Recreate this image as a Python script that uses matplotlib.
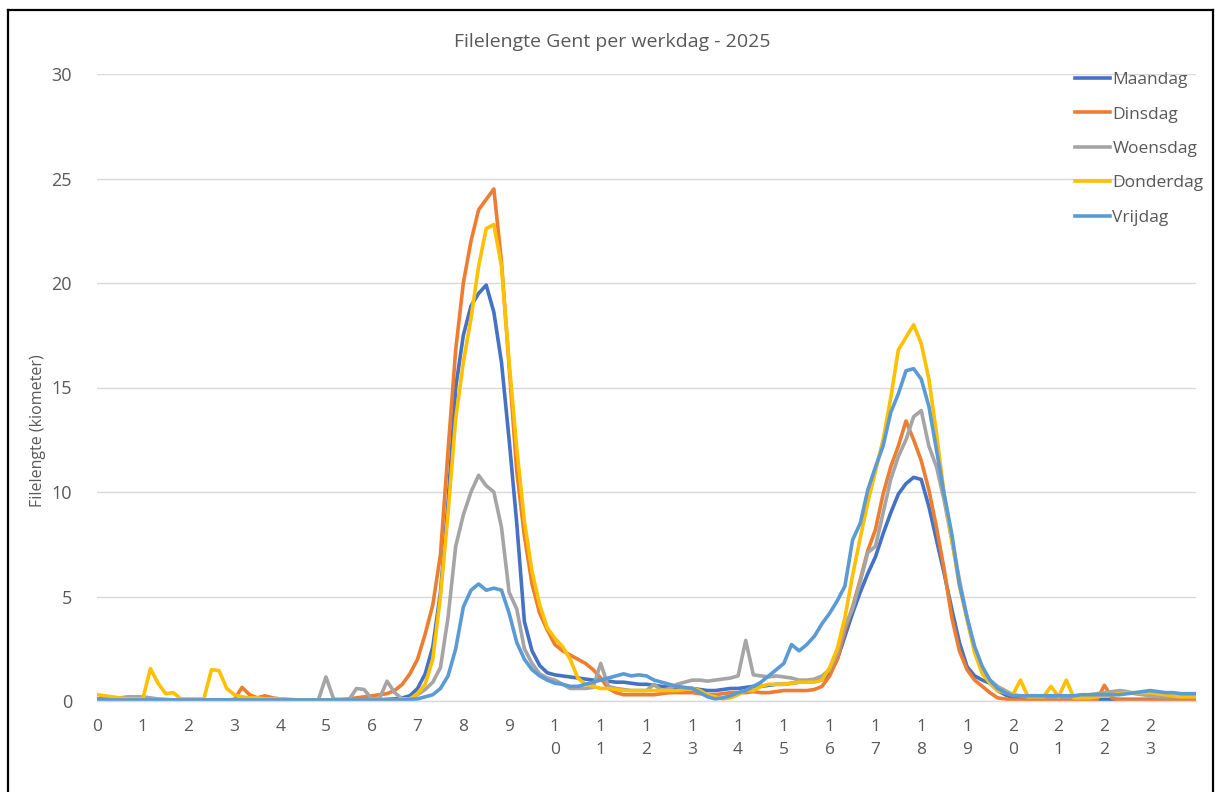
import numpy as np
import matplotlib
matplotlib.use("Agg")
import matplotlib.pyplot as plt
from matplotlib.lines import Line2D

# ---- data (km) every 10 minutes from 00:00 to 24:00 ----
maandag = [
    0.10, 0.08, 0.06, 0.05, 0.05, 0.05,
    0.05, 0.05, 0.05, 0.05, 0.05, 0.05,
    0.05, 0.05, 0.05, 0.05, 0.05, 0.05,
    0.05, 0.05, 0.05, 0.05, 0.05, 0.05,
    0.04, 0.04, 0.04, 0.04, 0.04, 0.04,
    0.04, 0.04, 0.05, 0.05, 0.05, 0.05,
    0.05, 0.06, 0.08, 0.10, 0.15, 0.25,
    0.60, 1.30, 2.60, 5.20, 9.50, 15.0,
    17.5, 18.9, 19.5, 19.9, 18.6, 16.2,
    12.5, 8.5, 3.8, 2.4, 1.7, 1.35,
    1.25, 1.20, 1.15, 1.10, 1.05, 1.00,
    1.00, 0.95, 0.90, 0.90, 0.85, 0.80,
    0.80, 0.75, 0.70, 0.65, 0.60, 0.60,
    0.60, 0.55, 0.50, 0.50, 0.55, 0.60,
    0.60, 0.65, 0.70, 0.70, 0.75, 0.80,
    0.80, 0.85, 0.90, 0.90, 0.95, 1.00,
    1.30, 2.00, 3.10, 4.20, 5.20, 6.10,
    6.90, 8.00, 9.00, 9.90, 10.4, 10.7,
    10.6, 9.30, 7.70, 6.10, 4.40, 2.80,
    1.65, 1.20, 1.00, 0.85, 0.50, 0.30,
    0.15, 0.10, 0.08, 0.08, 0.08, 0.08,
    0.08, 0.08, 0.08, 0.08, 0.08, 0.08,
    0.08, 0.08, 0.08, 0.08, 0.08, 0.08,
    0.08, 0.08, 0.08, 0.08, 0.08, 0.08,
    0.08,
]
dinsdag = [
    0.10, 0.08, 0.06, 0.05, 0.05, 0.05,
    0.05, 0.05, 0.05, 0.05, 0.05, 0.05,
    0.05, 0.05, 0.05, 0.05, 0.05, 0.05,
    0.08, 0.65, 0.30, 0.15, 0.25, 0.15,
    0.10, 0.08, 0.06, 0.05, 0.05, 0.05,
    0.05, 0.05, 0.08, 0.10, 0.15, 0.20,
    0.25, 0.30, 0.35, 0.50, 0.80, 1.30,
    2.00, 3.20, 4.60, 7.00, 12.0, 16.8,
    20.0, 22.0, 23.5, 24.0, 24.5, 21.0,
    16.0, 11.0, 7.90, 5.60, 4.20, 3.40,
    2.70, 2.40, 2.20, 2.00, 1.80, 1.50,
    1.10, 0.60, 0.40, 0.30, 0.30, 0.30,
    0.30, 0.30, 0.35, 0.40, 0.40, 0.40,
    0.40, 0.35, 0.30, 0.30, 0.35, 0.40,
    0.40, 0.40, 0.45, 0.40, 0.40, 0.45,
    0.50, 0.50, 0.50, 0.50, 0.55, 0.70,
    1.20, 2.00, 3.40, 4.50, 5.80, 7.20,
    8.20, 9.90, 11.2, 12.2, 13.4, 12.5,
    11.5, 10.1, 8.30, 6.30, 4.00, 2.40,
    1.50, 1.00, 0.70, 0.40, 0.15, 0.10,
    0.05, 0.05, 0.05, 0.05, 0.05, 0.05,
    0.05, 0.05, 0.05, 0.05, 0.05, 0.05,
    0.75, 0.15, 0.05, 0.05, 0.05, 0.05,
    0.05, 0.05, 0.05, 0.05, 0.05, 0.05,
    0.05,
]
woensdag = [
    0.05, 0.05, 0.10, 0.15, 0.20, 0.20,
    0.20, 0.15, 0.10, 0.08, 0.05, 0.05,
    0.05, 0.05, 0.05, 0.05, 0.05, 0.05,
    0.05, 0.05, 0.05, 0.05, 0.05, 0.05,
    0.05, 0.05, 0.05, 0.05, 0.05, 0.05,
    1.15, 0.10, 0.05, 0.05, 0.60, 0.55,
    0.10, 0.10, 0.95, 0.40, 0.10, 0.10,
    0.30, 0.55, 0.90, 1.60, 4.00, 7.40,
    8.90, 10.0, 10.8, 10.3, 10.0, 8.30,
    5.20, 4.40, 2.50, 1.80, 1.30, 1.10,
    1.00, 0.80, 0.60, 0.60, 0.60, 0.65,
    1.80, 0.70, 0.60, 0.55, 0.50, 0.50,
    0.50, 0.80, 0.50, 0.60, 0.80, 0.90,
    1.00, 1.00, 0.95, 1.00, 1.05, 1.10,
    1.20, 2.90, 1.25, 1.20, 1.15, 1.20,
    1.15, 1.10, 1.00, 1.00, 1.05, 1.20,
    1.50, 2.30, 3.60, 4.40, 5.70, 7.10,
    7.40, 9.00, 10.6, 11.7, 12.5, 13.6,
    13.9, 12.2, 11.2, 9.60, 7.70, 5.80,
    4.00, 2.40, 1.50, 1.00, 0.70, 0.50,
    0.30, 0.25, 0.20, 0.20, 0.20, 0.20,
    0.20, 0.20, 0.20, 0.25, 0.30, 0.35,
    0.40, 0.45, 0.50, 0.45, 0.35, 0.30,
    0.25, 0.20, 0.20, 0.20, 0.20, 0.20,
    0.20,
]
donderdag = [
    0.30, 0.25, 0.20, 0.15, 0.10, 0.10,
    0.10, 1.55, 0.85, 0.35, 0.40, 0.10,
    0.10, 0.10, 0.10, 1.50, 1.45, 0.60,
    0.30, 0.20, 0.15, 0.15, 0.10, 0.10,
    0.10, 0.05, 0.05, 0.05, 0.05, 0.05,
    0.05, 0.05, 0.05, 0.05, 0.05, 0.05,
    0.05, 0.05, 0.05, 0.05, 0.08, 0.10,
    0.35, 0.80, 2.00, 5.00, 9.00, 13.5,
    16.2, 18.3, 20.8, 22.6, 22.8, 20.8,
    16.2, 12.1, 8.60, 6.20, 4.60, 3.50,
    3.00, 2.60, 2.00, 1.10, 0.80, 0.70,
    0.60, 0.60, 0.55, 0.50, 0.50, 0.50,
    0.50, 0.50, 0.50, 0.50, 0.50, 0.55,
    0.60, 0.50, 0.30, 0.20, 0.10, 0.15,
    0.30, 0.50, 0.50, 0.70, 0.80, 0.80,
    0.80, 0.85, 0.90, 0.90, 0.90, 1.00,
    1.60, 2.50, 4.00, 6.00, 7.80, 9.50,
    11.0, 12.5, 14.5, 16.8, 17.4, 18.0,
    17.1, 15.4, 12.8, 9.90, 7.70, 5.50,
    3.90, 2.30, 1.30, 0.85, 0.50, 0.40,
    0.30, 1.00, 0.20, 0.20, 0.20, 0.70,
    0.20, 1.00, 0.15, 0.15, 0.15, 0.20,
    0.25, 0.30, 0.35, 0.40, 0.40, 0.40,
    0.40, 0.35, 0.30, 0.25, 0.20, 0.20,
    0.20,
]
vrijdag = [
    0.10, 0.08, 0.05, 0.05, 0.05, 0.05,
    0.05, 0.05, 0.05, 0.05, 0.05, 0.05,
    0.05, 0.05, 0.05, 0.05, 0.05, 0.05,
    0.05, 0.05, 0.05, 0.05, 0.05, 0.05,
    0.05, 0.05, 0.05, 0.05, 0.05, 0.05,
    0.05, 0.05, 0.05, 0.05, 0.05, 0.05,
    0.05, 0.05, 0.05, 0.05, 0.05, 0.08,
    0.10, 0.20, 0.30, 0.60, 1.20, 2.50,
    4.50, 5.30, 5.60, 5.30, 5.40, 5.30,
    4.20, 2.80, 2.00, 1.50, 1.20, 1.00,
    0.85, 0.80, 0.70, 0.70, 0.80, 0.90,
    1.00, 1.10, 1.20, 1.30, 1.20, 1.25,
    1.20, 1.00, 0.90, 0.80, 0.70, 0.65,
    0.60, 0.40, 0.20, 0.10, 0.15, 0.25,
    0.40, 0.50, 0.70, 0.90, 1.20, 1.50,
    1.80, 2.70, 2.40, 2.70, 3.10, 3.70,
    4.20, 4.80, 5.50, 7.70, 8.50, 10.1,
    11.2, 12.2, 13.8, 14.7, 15.8, 15.9,
    15.4, 14.1, 12.0, 9.90, 8.00, 5.60,
    4.00, 2.60, 1.65, 1.00, 0.60, 0.40,
    0.25, 0.25, 0.25, 0.25, 0.25, 0.25,
    0.25, 0.25, 0.25, 0.30, 0.30, 0.30,
    0.30, 0.30, 0.30, 0.35, 0.40, 0.45,
    0.50, 0.45, 0.40, 0.40, 0.35, 0.35,
    0.35,
]

series_names = ["Maandag", "Dinsdag", "Woensdag", "Donderdag", "Vrijdag"]
series_values = [maandag, dinsdag, woensdag, donderdag, vrijdag]
series_colors = ["#4472C4", "#ED7D31", "#A5A5A5", "#FFC000", "#5B9BD5"]

hours = list(range(24))
hour_labels = [str(h) if h < 10 else "\n".join(str(h)) for h in hours]
time_h = np.arange(len(maandag)) / 6.0

title = "Filelengte Gent per werkdag - 2025"
ylabel = "Filelengte (kiometer)"

# ---- figure ----
W, H = 1218, 792
fig = plt.figure(figsize=(W / 100, H / 100), dpi=100)
fig.patch.set_facecolor("white")
FONT = "Open Sans"
TXT = "#595959"

left, right, top, bottom = 97, 1196, 74, 701
ax = fig.add_axes([left / W, 1 - bottom / H, (right - left) / W, (bottom - top) / H])

for name, vals, col in zip(series_names, series_values, series_colors):
    ax.plot(time_h, vals, color=col, lw=2.6, label=name, solid_joinstyle="round")

ax.set_xlim(0, 24)
ax.set_ylim(0, 30)
ax.set_yticks([0, 5, 10, 15, 20, 25, 30])
ax.set_xticks(hours)
ax.set_xticklabels(hour_labels, fontsize=12.5, color=TXT, family=FONT, linespacing=1.55)
ax.tick_params(axis="x", length=0, pad=13)
ax.tick_params(axis="y", length=0, pad=18, labelsize=13, labelcolor=TXT)
for lab in ax.get_yticklabels():
    lab.set_family(FONT)
ax.grid(axis="y", color="#D9D9D9", lw=1.0)
ax.set_axisbelow(True)
for s in ["left", "right", "top"]:
    ax.spines[s].set_visible(False)
ax.spines["bottom"].set_color("#D9D9D9")
ax.spines["bottom"].set_linewidth(1.0)

leg = fig.legend(*ax.get_legend_handles_labels(), loc="upper left",
                 bbox_to_anchor=(1075 / W, 1 - 72 / H), bbox_transform=fig.transFigure,
                 frameon=False, prop={"family": FONT, "size": 12.5}, handlelength=2.0,
                 handletextpad=0.15, labelspacing=1.05, borderpad=0.0, borderaxespad=0.0)
for t in leg.get_texts():
    t.set_color(TXT)
for l in leg.get_lines():
    l.set_linewidth(2.6)

fig.text(612 / W, 1 - 47 / H, title, ha="center", va="baseline", fontsize=14,
         color=TXT, family=FONT)
fig.text(38 / W, 1 - 431 / H, ylabel, ha="center", va="center", rotation=90,
         fontsize=11.5, color=TXT, family=FONT)

# outer frame (left, top, right)
for xs, ys in [([8, 8], [10, 792]), ([8, 1213], [10, 10]), ([1213, 1213], [10, 792])]:
    fig.add_artist(Line2D([x / W for x in xs], [1 - y / H for y in ys],
                          color="black", lw=1.6, transform=fig.transFigure))

fig.savefig("out.png", dpi=100)
